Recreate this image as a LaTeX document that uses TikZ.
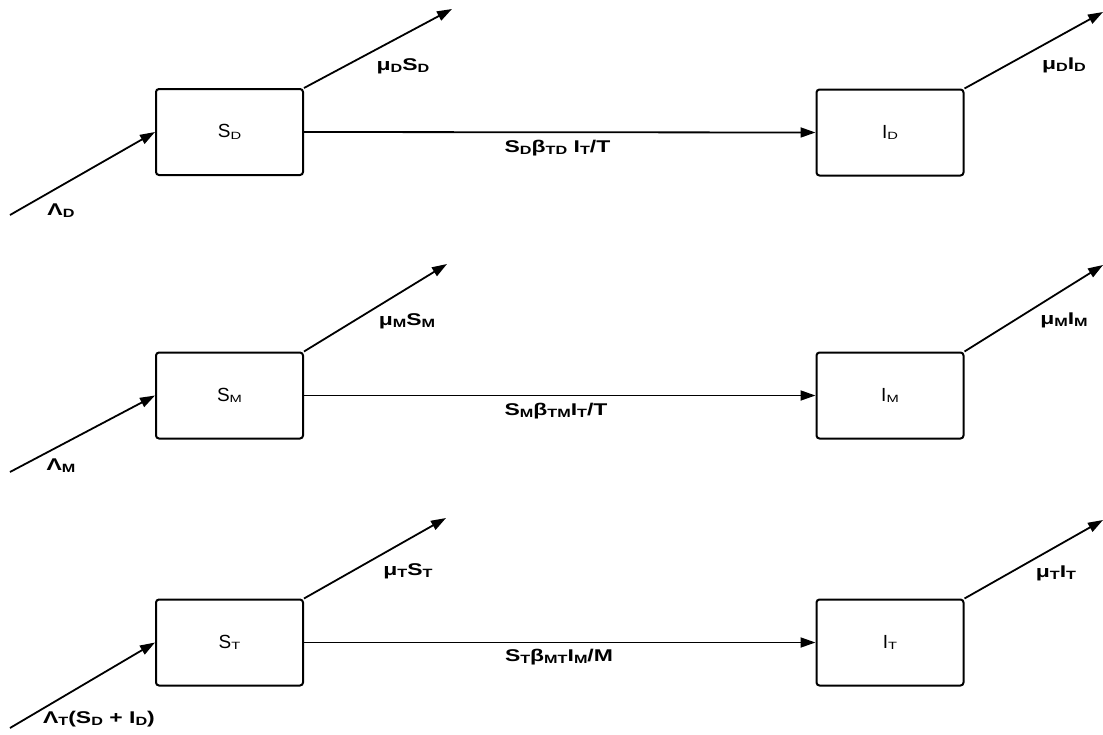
\documentclass[tikz,border=0pt]{standalone}
\usepackage{fontspec}
\setmainfont{Liberation Sans}
\usetikzlibrary{arrows.meta}
\newcommand\sbx[1]{\raisebox{-1.5pt}{\scalebox{1.4}[1]{\fontsize{10.5}{12}\selectfont #1}}}
\newcommand\sbl[1]{\raisebox{-2pt}{\fontsize{12}{12}\selectfont\bfseries #1}}
\newcommand\hs[1]{\scalebox{1.35}[1]{#1}}
\tikzset{
  comp/.style={draw, rounded corners=3pt, line width=2pt, minimum width=147pt, minimum height=86pt, inner sep=0pt, font=\fontsize{19}{21}\selectfont},
  flow/.style={line width=1.8pt, -{Triangle[length=15pt,width=10pt]}},
  lab/.style={font=\fontsize{17}{19}\selectfont\bfseries, inner sep=0pt, anchor=base}
}
\begin{document}
\begin{tikzpicture}[x=1pt,y=-1pt]
\useasboundingbox (0,0) rectangle (1103,734);
% top row
\node[comp] (SD) at (229.5,132) {S\sbx{D}};
\node[comp] (ID) at (890,132.5) {I\sbx{D}};
\coordinate (inD) at (10,215);
\coordinate (oSD) at (452,9);
\coordinate (oID) at (1103,12);
\draw[flow] (inD) -- (SD.west);
\draw[flow] (SD.north east) -- (oSD);
\draw[flow] (SD.east) -- (ID.west);
\draw[flow] (ID.north east) -- (oID);
\node[lab] (lD) at (61,215) {\hs{Λ\sbl{D}}};
\node[lab] (mSD) at (403,70) {\hs{μ\sbl{D}S\sbl{D}}};
\node[lab] (tD) at (557.5,152) {\hs{S\sbl{D}β\sbl{TD} I\sbl{T}/T}};
\node[lab] (mID) at (1064,69) {\hs{μ\sbl{D}I\sbl{D}}};
% middle row
\node[comp] (SM) at (229.5,395.5) {S\sbx{M}};
\node[comp] (IM) at (890,395.5) {I\sbx{M}};
\coordinate (inM) at (10,472);
\coordinate (oSM) at (447,264);
\coordinate (oIM) at (1103,265);
\draw[flow] (inM) -- (SM.west);
\draw[flow] (SM.north east) -- (oSM);
\draw[flow] (SM.east) -- (IM.west);
\draw[flow] (IM.north east) -- (oIM);
\node[lab] (lM) at (61,470) {\hs{Λ\sbl{M}}};
\node[lab] (mSM) at (407,325) {\hs{μ\sbl{M}S\sbl{M}}};
\node[lab] (tM) at (556,415) {\hs{S\sbl{M}β\sbl{TM}I\sbl{T}/T}};
\node[lab] (mIM) at (1064,324) {\hs{μ\sbl{M}I\sbl{M}}};
% bottom row
\node[comp] (ST) at (229.5,642.5) {S\sbx{T}};
\node[comp] (IT) at (890,642.5) {I\sbx{T}};
\coordinate (inT) at (10,728);
\coordinate (oST) at (446,518);
\coordinate (oIT) at (1103,520);
\draw[flow] (inT) -- (ST.west);
\draw[flow] (ST.north east) -- (oST);
\draw[flow] (ST.east) -- (IT.west);
\draw[flow] (IT.north east) -- (oIT);
\node[lab] (lT) at (99,723) {\hs{Λ\sbl{T}(S\sbl{D} + I\sbl{D})}};
\node[lab] (mST) at (408,575) {\hs{μ\sbl{T}S\sbl{T}}};
\node[lab] (tT) at (559,661) {\hs{S\sbl{T}β\sbl{MT}I\sbl{M}/M}};
\node[lab] (mIT) at (1056,577) {\hs{μ\sbl{T}I\sbl{T}}};
\end{tikzpicture}
\end{document}
